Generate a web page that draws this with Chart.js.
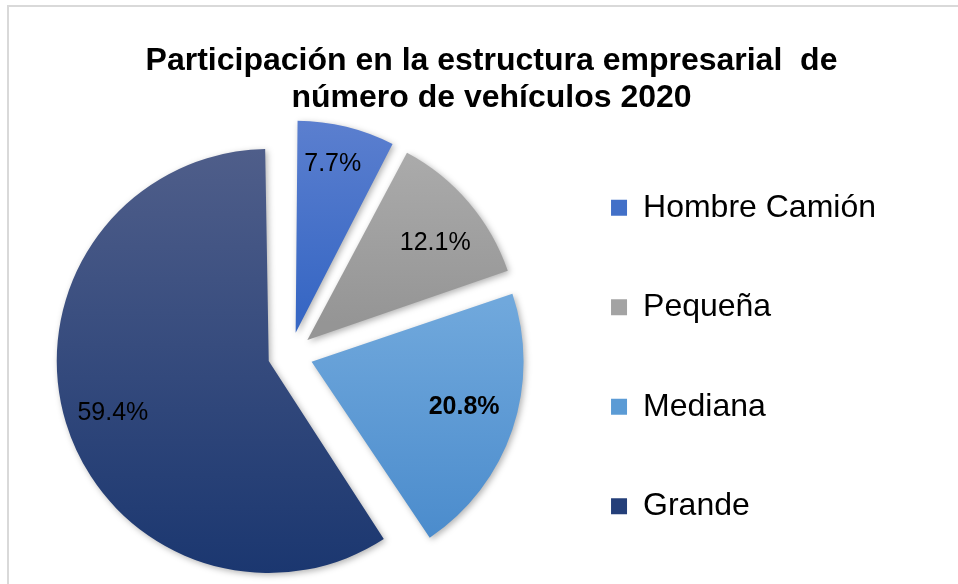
<!DOCTYPE html>
<html>
<head>
<meta charset="utf-8">
<script src="https://cdn.jsdelivr.net/npm/chart.js@4.4.0/dist/chart.umd.min.js"></script>
<style>
  html, body { margin: 0; padding: 0; background: #fff; overflow: hidden; }
  #frame { position: absolute; left: 7px; top: 5px; right: 0; bottom: 0; border-top: 2px solid #d9d9d9; border-left: 2px solid #d9d9d9; }
  #wrap { position: absolute; left: 0; top: 0; width: 958px; height: 595px; }
</style>
</head>
<body>
<div id="frame"></div>
<div id="wrap"><canvas id="pie-chart"></canvas></div>
<script>
// data
const categories = ['Hombre Camión', 'Pequeña', 'Mediana', 'Grande'];
const shares = [7.7, 12.1, 20.8, 59.4];
const chartTitle = ['Participación en la estructura empresarial  de', 'número de vehículos 2020'];

// look
const fontFamily = '"Liberation Sans", Arial, sans-serif';
const sliceTop = ['#5b7fcf', '#aeaeae', '#70a8dc', '#4f5e8a'];
const sliceBottom = ['#3767c4', '#959595', '#4a8bcc', '#1b3770'];
const gradSpan = [[0, 0.45], [0, 0.46], [0.36, 0.93], [0, 1]];
const legendColors = ['#4270c8', '#a3a3a3', '#5b9bd5', '#243f79'];
const sliceOffset = [90, 90, 90, 90];   // chart.js moves a slice by offset / 4
const labelAngle = [0.449, 0.576, 0.473, 0.492];
const labelRadius = [0.812, 0.757, 0.751, 0.776];
const boldLabel = [false, false, true, false];
const pieRadius = 212;
const pieShift = 60;
const pieLift = 2.5;

function sliceFill(context) {
    const i = context.dataIndex;
    const area = context.chart.chartArea;
    if (i === undefined) return sliceBottom[0];
    if (!area) return sliceBottom[i];
    const cy = (area.top + area.bottom) / 2;
    const g = context.chart.ctx.createLinearGradient(0, cy - pieRadius, 0, cy + pieRadius);
    g.addColorStop(gradSpan[i][0], sliceTop[i]);
    g.addColorStop(gradSpan[i][1], sliceBottom[i]);
    return g;
}

const pieExtras = {
    id: 'pieExtras',
    afterLayout(chart) {
        // legend stays where it is, the pie sits further left
        const a = chart.chartArea;
        a.left -= pieShift;
        a.top -= pieLift;
        a.bottom -= pieLift;
        a.width = a.right - a.left;
    },
    beforeDatasetsDraw(chart) {
        // keep exploded slices at the same radius
        chart.getDatasetMeta(0).data.forEach((arc, i) => {
            const fix = 1 - Math.sin(Math.min(Math.PI, arc.circumference));
            arc.outerRadius = pieRadius - sliceOffset[i] / 4 * fix;
        });
        const ctx = chart.ctx;
        ctx.save();
        ctx.shadowColor = 'rgba(0,0,0,0.3)';
        ctx.shadowBlur = 6;
        ctx.shadowOffsetX = 2;
        ctx.shadowOffsetY = 2;
    },
    afterDatasetsDraw(chart) {
        const ctx = chart.ctx;
        ctx.restore();
        ctx.save();
        ctx.textAlign = 'center';
        ctx.textBaseline = 'middle';
        ctx.fillStyle = '#000';
        chart.getDatasetMeta(0).data.forEach((arc, i) => {
            const mid = (arc.startAngle + arc.endAngle) / 2;
            const sx = arc.x + Math.cos(mid) * sliceOffset[i] / 4;
            const sy = arc.y + Math.sin(mid) * sliceOffset[i] / 4;
            const ang = arc.startAngle + labelAngle[i] * (arc.endAngle - arc.startAngle);
            const d = labelRadius[i] * pieRadius;
            ctx.font = (boldLabel[i] ? 'bold ' : '') + '25px ' + fontFamily;
            ctx.fillText(shares[i].toFixed(1) + '%', sx + Math.cos(ang) * d, sy + Math.sin(ang) * d);
        });
        ctx.restore();
    }
};

const ctx = document.getElementById('pie-chart').getContext('2d');

const chart = new Chart(ctx, {
    type: 'pie',
    data: {
        labels: categories,
        datasets: [{
            data: shares,
            backgroundColor: sliceFill,
            borderWidth: 0,
            offset: sliceOffset,
            radius: pieRadius,
            clip: false
        }]
    },
    options: {
        responsive: true,
        maintainAspectRatio: false,
        animation: false,
        events: [],
        layout: {
            padding: { left: 97, right: 72, top: 0, bottom: 0 }
        },
        plugins: {
            title: {
                display: true,
                text: chartTitle,
                color: '#000',
                font: { family: fontFamily, size: 32, weight: 'bold', lineHeight: 1.172 },
                padding: { top: 42, bottom: 2 }
            },
            legend: {
                position: 'right',
                fullSize: false,
                labels: {
                    boxWidth: 16,
                    boxHeight: 16,
                    padding: 67.5,
                    color: '#595959',
                    font: { family: fontFamily, size: 32 },
                    generateLabels: () => categories.map((c, i) => ({
                        text: c,
                        fillStyle: legendColors[i],
                        strokeStyle: legendColors[i],
                        lineWidth: 0,
                        hidden: false,
                        index: i
                    }))
                }
            },
            tooltip: { enabled: false }
        }
    },
    plugins: [pieExtras]
});
</script>
</body>
</html>
